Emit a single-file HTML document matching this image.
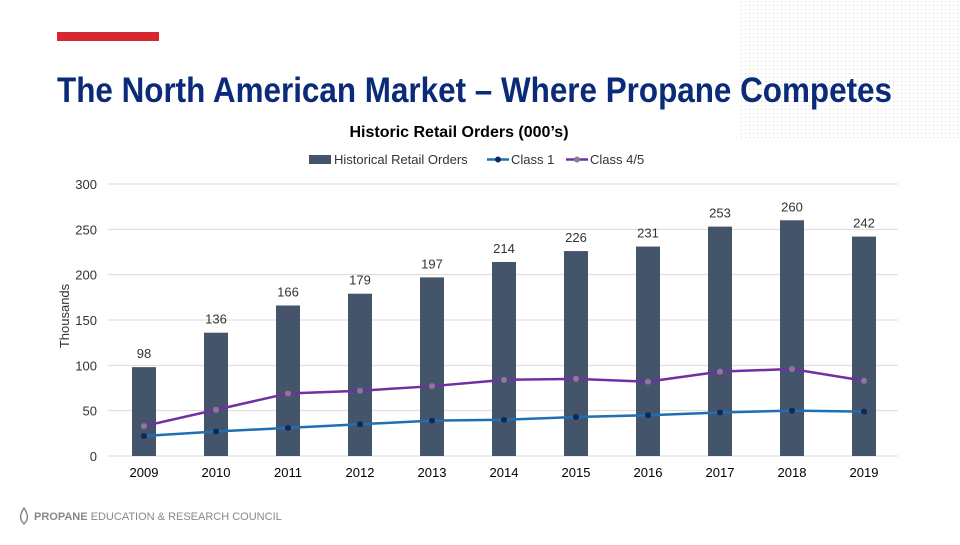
<!DOCTYPE html>
<html><head><meta charset="utf-8"><style>
body{margin:0;width:960px;height:540px;overflow:hidden;background:#fff;font-family:"Liberation Sans",sans-serif}
</style></head><body>
<svg id="c" width="960" height="540" xmlns="http://www.w3.org/2000/svg">
<defs><pattern id="dots" width="4" height="4" patternUnits="userSpaceOnUse"><rect x="1" y="1" width="1" height="1" fill="#d4d4d4"/></pattern></defs>
<rect x="738" y="0" width="222" height="140" fill="url(#dots)"/>
<rect x="57" y="32" width="102" height="9" fill="#d7282f"/>
<text x="57" y="102" font-family="'Liberation Sans Narrow','Liberation Sans',sans-serif" font-weight="bold" font-size="35" fill="#0b2a7a" textLength="835" lengthAdjust="spacingAndGlyphs">The North American Market – Where Propane Competes</text>
<text x="459" y="137" text-anchor="middle" font-size="16" font-weight="bold" fill="#000">Historic Retail Orders (000’s)</text>
<g font-size="13" fill="#333">
<rect x="309" y="155" width="22" height="9" fill="#44546a"/>
<text x="334" y="164">Historical Retail Orders</text>
<line x1="487" y1="159.5" x2="509" y2="159.5" stroke="#1f6fb2" stroke-width="2.5"/>
<circle cx="498" cy="159.5" r="3" fill="#0b2a5a"/>
<text x="511" y="164">Class 1</text>
<line x1="566" y1="159.5" x2="588" y2="159.5" stroke="#7030a0" stroke-width="2.5"/>
<circle cx="577" cy="159.5" r="3" fill="#8a7a9a"/>
<text x="590" y="164">Class 4/5</text>
</g>
<text transform="translate(69,316) rotate(-90)" text-anchor="middle" font-size="13" fill="#333">Thousands</text>
<g id="plot"></g>
<g>
<path d="M24 508 C20 514 19 519 24 524 C29 519 28 514 24 508 Z" fill="none" stroke="#888" stroke-width="1.5"/>
<text x="34" y="520" font-size="11" fill="#888"><tspan font-weight="bold">PROPANE</tspan> EDUCATION &amp; RESEARCH COUNCIL</text>
</g>
</svg>
<script>
const years=["2009","2010","2011","2012","2013","2014","2015","2016","2017","2018","2019"];
const retail=[98,136,166,179,197,214,226,231,253,260,242];
const class1=[22,27,31,35,39,40,43,45,48,50,49];
const class45=[33,51,69,72,77,84,85,82,93,96,83];
const yTicks=[0,50,100,150,200,250,300];
const NS="http://www.w3.org/2000/svg";
const g=document.getElementById('plot');
const y=v=>456-v*272/300;
const x=i=>144+i*72;
function mk(t,a){const e=document.createElementNS(NS,t);for(const k in a)e.setAttribute(k,a[k]);g.appendChild(e);return e;}
yTicks.forEach(t=>{
 const l=mk('line',{x1:108,x2:898,y1:y(t),y2:y(t),stroke:'#d9d9d9','stroke-width':1});
 
 
 const tx=mk('text',{x:97,y:y(t)+5,'text-anchor':'end','font-size':13,fill:'#333'});tx.textContent=t;
 
 
});
years.forEach((yr,i)=>{
 const b=mk('rect',{x:x(i)-12,y:y(retail[i]),width:24,height:456-y(retail[i]),fill:'#44546a'});
 
 
 const lb=mk('text',{x:x(i),y:y(retail[i])-9,'text-anchor':'middle','font-size':13,fill:'#333'});
 lb.textContent=retail[i];
 
 
 const xt=mk('text',{x:x(i),y:477,'text-anchor':'middle','font-size':13,fill:'#000'});xt.textContent=yr;
 
 
});
function series(vals,col,dot,name){
 const p=mk('polyline',{points:vals.map((v,i)=>x(i)+','+y(v)).join(' '),fill:'none',stroke:col,'stroke-width':2.5});
 
 
 vals.forEach((v,i)=>{const c=mk('circle',{cx:x(i),cy:y(v),r:3,fill:dot});
 
 });
}
series(class45,'#7030a0','#8a7a9a','class45');
series(class1,'#1f6fb2','#0b2a5a','class1');
</script>
</body></html>
